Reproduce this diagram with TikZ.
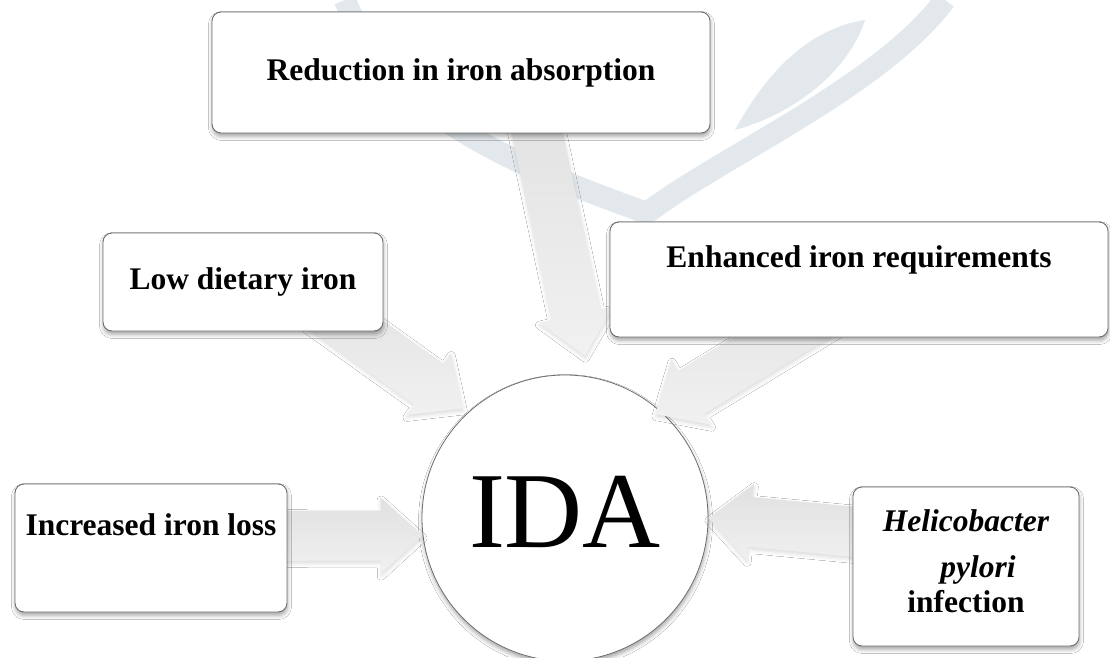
\documentclass[tikz,border=0pt]{standalone}
\usepackage{fontspec}
\setmainfont{Liberation Serif}
\usetikzlibrary{calc,shadows.blur}
\definecolor{BoxLine}{HTML}{6E6E6E}
\definecolor{MarkTint}{HTML}{E2E8EB}
\tikzset{
  causebox/.style={draw=BoxLine, line width=0.9pt, fill=white,
    rounded corners=9pt, align=center, inner sep=0pt,
    font=\fontsize{31.5}{40}\selectfont\bfseries,
    blur shadow={shadow xshift=0.5pt, shadow yshift=-3.5pt,
      shadow blur radius=4pt, shadow opacity=35}},
  flowarrow/.style={top color=gray!24, bottom color=gray!11,
    blur shadow={shadow xshift=0.5pt, shadow yshift=-2.5pt,
      shadow blur radius=4pt, shadow opacity=14}}
}
% block arrow from #1 (tail) to #2 (tip)
\newcommand{\causearrow}[2]{%
  \coordinate (ca-s) at (#1);
  \coordinate (ca-t) at (#2);
  \coordinate (ca-b) at ($(ca-t)!42pt!(ca-s)$);
  \path[flowarrow] ($(ca-s)!25pt!90:(ca-t)$) -- ($(ca-b)!25pt!90:(ca-t)$)
    -- ($(ca-b)!38pt!90:(ca-t)$) -- (ca-t) -- ($(ca-b)!38pt!-90:(ca-t)$)
    -- ($(ca-b)!25pt!-90:(ca-t)$) -- ($(ca-s)!25pt!-90:(ca-t)$) -- cycle;}
\begin{document}
\begin{tikzpicture}[x=1pt,y=1pt]
  \fill[white] (0,0) rectangle (1110,657);
  \useasboundingbox (0,0) rectangle (1110,657);

  % faint watermark
  \draw[MarkTint, line width=22pt, line join=round]
    (345,657) .. controls (390,540) and (520,490) .. (647,444)
    .. controls (720,500) and (880,570) .. (945,657);
  \fill[MarkTint] (735,527) .. controls (775,600) and (820,630) .. (865,637)
    .. controls (850,590) and (800,545) .. (735,527);

  % centre
  \node[circle, draw=BoxLine, line width=0.8pt, fill=white,
        minimum size=286pt, inner sep=0pt, text depth=12pt,
        font=\fontsize{108}{108}\selectfont,
        blur shadow={shadow xshift=0.5pt, shadow yshift=-3.5pt,
          shadow blur radius=4pt, shadow opacity=35}] (ida) at (565,139) {IDA};

  % arrow tails
  \coordinate (absorb-tail) at (526,576);
  \coordinate (diet-tail) at (300,365);
  \coordinate (need-tail) at (869,373);
  \coordinate (loss-tail) at (200,121);
  \coordinate (hp-tail) at (950,116);

  \causearrow{absorb-tail}{$(ida.center)!1.14!(ida.83)$}
  \causearrow{diet-tail}{$(ida.center)!1.045!(ida.133)$}
  \causearrow{need-tail}{$(ida.center)!0.96!(ida.49)$}
  \causearrow{loss-tail}{ida.187}
  \causearrow{hp-tail}{ida.east}

  % causes
  \node[causebox, minimum width=498pt, minimum height=121pt]
    (absorb) at (461,584.5) {Reduction in iron absorption};
  \node[causebox, minimum width=280pt, minimum height=98pt]
    (diet) at (243,375) {Low dietary iron};
  \node[causebox, minimum width=498pt, minimum height=115pt, text depth=46pt]
    (need) at (859,377.5) {Enhanced iron requirements};
  \node[causebox, minimum width=272pt, minimum height=128pt, text depth=46pt]
    (loss) at (151,109) {Increased iron loss};
  \node[causebox, minimum width=226pt, minimum height=159pt, text depth=10pt]
    (hp) at (966,90.5) {{\itshape Helicobacter}\\[6pt]
      \hspace*{24pt}{\itshape pylori}\\[-5pt]infection};
\end{tikzpicture}
\end{document}
